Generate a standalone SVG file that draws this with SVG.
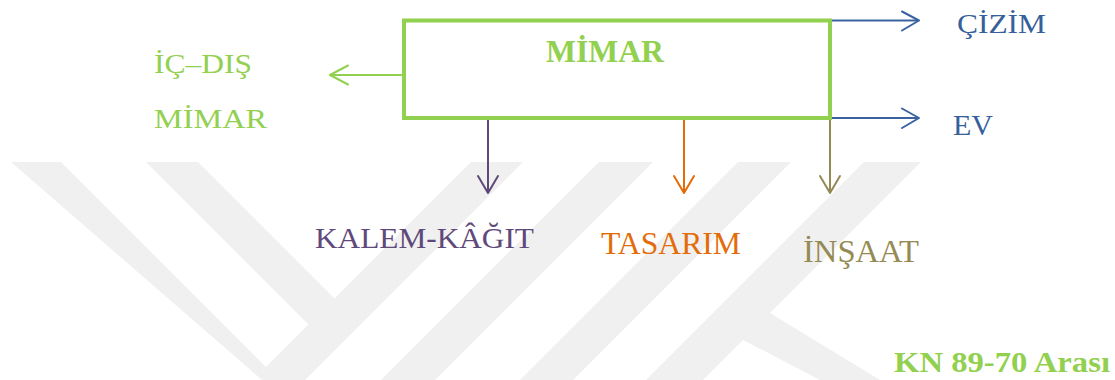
<svg xmlns="http://www.w3.org/2000/svg" width="1115" height="380" viewBox="0 0 1115 380">
<defs>
<style>
text{font-family:'Liberation Serif','Times New Roman','DejaVu Serif',serif}
.b{font-weight:bold}
.wm{fill:#f0f0f0}
.ln{fill:none;stroke-width:2}
.hd{fill:none;stroke-width:2;stroke-linecap:round;stroke-linejoin:round}
</style>
</defs>
<rect width="1115" height="380" fill="#ffffff"/>
<g id="watermark">
<polygon class="wm" points="11,162 61,162 266,367 308.5,324.5 146,162 198,162 334.5,298.5 471,162 523,162 305,380 262,380"/>
<polygon class="wm" points="599,162 653,162 435,380 381,380"/>
<polygon class="wm" points="738,162 791,162 573,380 520,380"/>
<polygon class="wm" points="864,162 921,162 770,313 880,380 820,380 743,340 703,380 646,380"/>
</g>
<g id="connectors">
<path class="ln" stroke="#92d050" d="M404,75 H331"/>
<path class="hd" stroke="#92d050" d="M348,65.5 L330,75 L348,84.5"/>
<path class="ln" stroke="#3b62a0" d="M830,20.5 H918"/>
<path class="hd" stroke="#3b62a0" d="M902,11.5 L919,20.5 L902,30.5"/>
<path class="ln" stroke="#3b62a0" d="M830,118 H918"/>
<path class="hd" stroke="#3b62a0" d="M902,108.5 L919,118 L902,128"/>
<path class="ln" stroke="#5f497a" d="M488,120 V192"/>
<path class="hd" stroke="#5f497a" d="M478,176 L488,193 L498,176"/>
<path class="ln" stroke="#e36c09" d="M684,120 V192"/>
<path class="hd" stroke="#e36c09" d="M674,176 L684,193 L694,176"/>
<path class="ln" stroke="#948a54" d="M830,120 V192"/>
<path class="hd" stroke="#948a54" d="M820,176 L830,193 L840,176"/>
</g>
<g id="mimar">
<rect x="404" y="20.5" width="426" height="97.5" fill="#ffffff" stroke="#92d050" stroke-width="4"/>
<text class="b" font-family="Liberation Serif, serif" x="605" y="62" font-size="32" text-anchor="middle" fill="#92d050" textLength="118" lengthAdjust="spacingAndGlyphs">MİMAR</text>
</g>
<g id="ic-dis-mimar">
<text font-family="Liberation Serif, serif" x="154" y="73" font-size="27" fill="#92d050" textLength="98" lengthAdjust="spacingAndGlyphs">İÇ–DIŞ</text>
<text font-family="Liberation Serif, serif" x="154" y="128" font-size="27" fill="#92d050" textLength="113" lengthAdjust="spacingAndGlyphs">MİMAR</text>
</g>
<g id="cizim">
<text font-family="Liberation Serif, serif" x="957" y="33" font-size="28" fill="#35609a" textLength="89" lengthAdjust="spacingAndGlyphs">ÇİZİM</text>
</g>
<g id="ev">
<text font-family="Liberation Serif, serif" x="953" y="135" font-size="30" fill="#35609a" textLength="40" lengthAdjust="spacingAndGlyphs">EV</text>
</g>
<g id="kalem-kagit">
<text font-family="Liberation Serif, serif" x="315" y="248" font-size="30" fill="#5f497a" textLength="219" lengthAdjust="spacingAndGlyphs">KALEM-KÂĞIT</text>
</g>
<g id="tasarim">
<text font-family="Liberation Serif, serif" x="601" y="254" font-size="31" fill="#e36c09" textLength="140" lengthAdjust="spacingAndGlyphs">TASARIM</text>
</g>
<g id="insaat">
<text font-family="Liberation Serif, serif" x="803" y="262" font-size="31" fill="#948a54" textLength="116" lengthAdjust="spacingAndGlyphs">İNŞAAT</text>
</g>
<g id="caption">
<text class="b" font-family="Liberation Serif, serif" x="894" y="372" font-size="30" fill="#92d050" textLength="216" lengthAdjust="spacingAndGlyphs">KN 89-70 Arası</text>
</g>
</svg>
